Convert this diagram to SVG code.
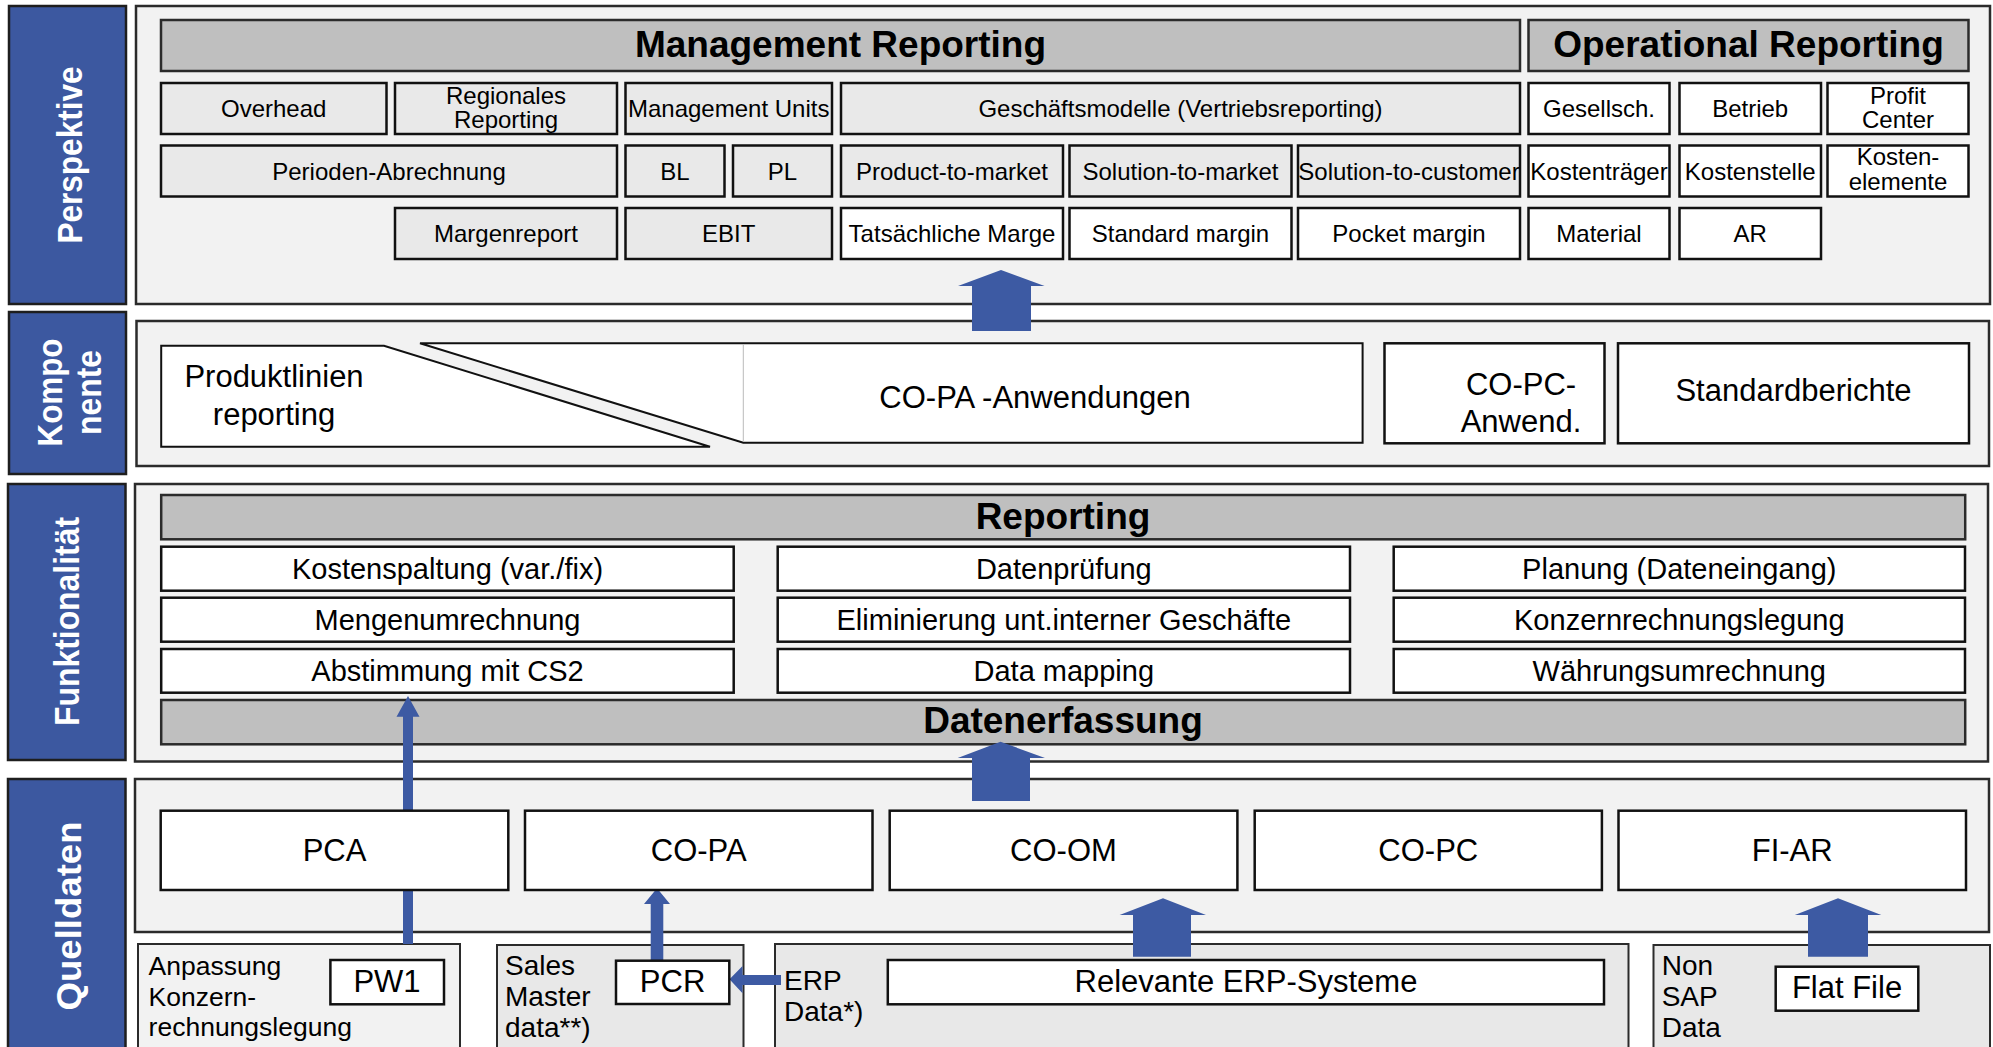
<svg xmlns="http://www.w3.org/2000/svg" width="1993" height="1047" viewBox="0 0 1993 1047">
<style>
.bg{fill:#ffffff}
.panel{fill:#F2F2F2;stroke:#2b2b2b;stroke-width:2.5}
.sub1{fill:#F2F2F2;stroke:#2b2b2b;stroke-width:2}
.sub2{fill:#E8E8E8;stroke:#2b2b2b;stroke-width:2}
.side{fill:#3C58A0;stroke:#1e1e1e;stroke-width:2.5}
.hdr{fill:#BFBFBF;stroke:#2b2b2b;stroke-width:2.5}
.mg{fill:#E9E9E9;stroke:#111;stroke-width:2.5}
.wh{fill:#FFFFFF;stroke:#111;stroke-width:2.5}
.arr{fill:#3D5AA3}
text{font-family:"Liberation Sans",Arial,sans-serif;fill:#000;text-anchor:middle}
.st{font-weight:bold;font-size:35px;fill:#FFFFFF}
.h{font-weight:bold;font-size:37px}
.t24{font-size:24px}
.t29{font-size:29px}
.t31{font-size:31px}
.t28{font-size:28px;text-anchor:start}
.t26{font-size:26.5px;text-anchor:start}
</style>
<rect class="bg" x="0" y="0" width="1993" height="1047"/>

<!-- side labels -->
<g id="label-perspektive">
<rect class="side" x="9" y="6" width="117" height="298"/>
<text class="st" transform="translate(81.7,155) rotate(-90)" textLength="177" lengthAdjust="spacingAndGlyphs">Perspektive</text>
</g>
<g id="label-komponente">
<rect class="side" x="9" y="312" width="117" height="162"/>
<text class="st" transform="translate(62.2,392.5) rotate(-90)" textLength="108" lengthAdjust="spacingAndGlyphs">Kompo</text>
<text class="st" transform="translate(100.5,392.5) rotate(-90)" textLength="85" lengthAdjust="spacingAndGlyphs">nente</text>
</g>
<g id="label-funktionalitaet">
<rect class="side" x="8" y="484" width="117.5" height="276"/>
<text class="st" transform="translate(79,621.5) rotate(-90)" textLength="209" lengthAdjust="spacingAndGlyphs">Funktionalität</text>
</g>
<g id="label-quelldaten">
<rect class="side" x="8" y="779" width="117.5" height="290"/>
<text class="st" transform="translate(81,916) rotate(-90)" textLength="189" lengthAdjust="spacingAndGlyphs">Quelldaten</text>
</g>

<!-- layer panels -->
<g id="panel-perspektive"><rect class="panel" x="136" y="6" width="1854" height="298"/></g>
<g id="panel-komponente"><rect class="panel" x="136.5" y="321" width="1852.5" height="145"/></g>
<g id="panel-funktionalitaet"><rect class="panel" x="135" y="484" width="1853" height="277.5"/></g>
<g id="panel-quelldaten"><rect class="panel" x="135" y="779" width="1854" height="153"/></g>
<g id="panel-anpassung"><rect class="sub1" x="138" y="944" width="322" height="120"/>
<text class="t26" x="148.6" y="975">Anpassung</text>
<text class="t26" x="148.6" y="1005.5">Konzern-</text>
<text class="t26" x="148.6" y="1036">rechnungslegung</text>
</g>
<g id="panel-sales"><rect class="sub2" x="497" y="945" width="246.5" height="120"/>
<text class="t28" x="505" y="975">Sales</text>
<text class="t28" x="505" y="1006">Master</text>
<text class="t28" x="505" y="1037">data**)</text>
</g>
<g id="panel-erp"><rect class="sub2" x="775" y="944" width="853.5" height="120"/>
<text class="t28" x="784" y="990">ERP</text>
<text class="t28" x="784" y="1020.5">Data*)</text>
</g>
<g id="panel-nonsap"><rect class="sub2" x="1653.5" y="945" width="336.5" height="120"/>
<text class="t28" x="1661.7" y="975">Non</text>
<text class="t28" x="1661.7" y="1006">SAP</text>
<text class="t28" x="1661.7" y="1036.5">Data</text>
</g>

<!-- Perspektive -->
<g id="hdr-management"><rect class="hdr" x="161" y="20" width="1359" height="51"/><text class="h" x="840.5" y="57">Management Reporting</text></g>
<g id="hdr-operational"><rect class="hdr" x="1528.5" y="20" width="440" height="51"/><text class="h" x="1748.5" y="57">Operational Reporting</text></g>

<g id="n-overhead"><rect class="mg" x="161" y="83" width="225.5" height="51"/><text class="t24" x="273.7" y="117">Overhead</text></g>
<g id="n-regionales"><rect class="mg" x="395" y="83" width="222" height="51"/><text class="t24" x="506" y="103.5">Regionales</text><text class="t24" x="506" y="128.3">Reporting</text></g>
<g id="n-mgmtunits"><rect class="mg" x="625.5" y="83" width="206.5" height="51"/><text class="t24" x="728.7" y="117">Management Units</text></g>
<g id="n-geschaeftsmodelle"><rect class="mg" x="841" y="83" width="679" height="51"/><text class="t24" x="1180.5" y="117">Geschäftsmodelle (Vertriebsreporting)</text></g>
<g id="n-gesellsch"><rect class="wh" x="1528.5" y="83" width="141" height="51"/><text class="t24" x="1599" y="117">Gesellsch.</text></g>
<g id="n-betrieb"><rect class="wh" x="1679.5" y="83" width="141.5" height="51"/><text class="t24" x="1750.2" y="117">Betrieb</text></g>
<g id="n-profitcenter"><rect class="wh" x="1827.5" y="83" width="141" height="51"/><text class="t24" x="1898" y="103.5">Profit</text><text class="t24" x="1898" y="128.3">Center</text></g>

<g id="n-perioden"><rect class="mg" x="161" y="145.5" width="456" height="51"/><text class="t24" x="389" y="180">Perioden-Abrechnung</text></g>
<g id="n-bl"><rect class="mg" x="625.5" y="145.5" width="99" height="51"/><text class="t24" x="675" y="180">BL</text></g>
<g id="n-pl"><rect class="mg" x="733" y="145.5" width="99" height="51"/><text class="t24" x="782.5" y="180">PL</text></g>
<g id="n-ptm"><rect class="mg" x="841" y="145.5" width="222" height="51"/><text class="t24" x="952" y="180">Product-to-market</text></g>
<g id="n-stm"><rect class="mg" x="1069.5" y="145.5" width="222" height="51"/><text class="t24" x="1180.5" y="180">Solution-to-market</text></g>
<g id="n-stc"><rect class="mg" x="1298" y="145.5" width="222" height="51"/><text class="t24" x="1409" y="180">Solution-to-customer</text></g>
<g id="n-kostentraeger"><rect class="wh" x="1528.5" y="145.5" width="141" height="51"/><text class="t24" x="1599" y="180">Kostenträger</text></g>
<g id="n-kostenstelle"><rect class="wh" x="1679.5" y="145.5" width="141.5" height="51"/><text class="t24" x="1750.2" y="180">Kostenstelle</text></g>
<g id="n-kostenelemente"><rect class="wh" x="1827.5" y="145.5" width="141" height="51"/><text class="t24" x="1898" y="165">Kosten-</text><text class="t24" x="1898" y="190">elemente</text></g>

<g id="n-margenreport"><rect class="mg" x="395" y="208" width="222" height="51"/><text class="t24" x="506" y="241.5">Margenreport</text></g>
<g id="n-ebit"><rect class="mg" x="625.5" y="208" width="206.5" height="51"/><text class="t24" x="728.7" y="241.5">EBIT</text></g>
<g id="n-tatsaechliche"><rect class="wh" x="841" y="208" width="222" height="51"/><text class="t24" x="952" y="241.5">Tatsächliche Marge</text></g>
<g id="n-standardmargin"><rect class="wh" x="1069.5" y="208" width="222" height="51"/><text class="t24" x="1180.5" y="241.5">Standard margin</text></g>
<g id="n-pocketmargin"><rect class="wh" x="1298" y="208" width="222" height="51"/><text class="t24" x="1409" y="241.5">Pocket margin</text></g>
<g id="n-material"><rect class="wh" x="1528.5" y="208" width="141" height="51"/><text class="t24" x="1599" y="241.5">Material</text></g>
<g id="n-ar"><rect class="wh" x="1679.5" y="208" width="141.5" height="51"/><text class="t24" x="1750.2" y="241.5">AR</text></g>

<!-- Komponente -->
<g id="n-produktlinien">
<polygon points="161.2,345.7 384,345.7 710,446.7 161.2,446.7" fill="#FFFFFF" stroke="#111" stroke-width="2"/>
<text class="t31" x="274" y="387.3">Produktlinien</text>
<text class="t31" x="274" y="425">reporting</text>
</g>
<g id="n-copa-anwendungen">
<polygon points="420,343.3 1362.6,343.3 1362.6,442.7 743.3,442.7" fill="#FFFFFF" stroke="#111" stroke-width="2"/>
<line x1="743.3" y1="344.5" x2="743.3" y2="441.5" stroke="#BBBBBB" stroke-width="1"/>
<text class="t31" x="1035" y="408">CO-PA -Anwendungen</text>
</g>
<g id="n-copc-anwend"><rect class="wh" x="1384.5" y="343.3" width="220" height="100" stroke-width="2"/><text class="t31" x="1521" y="395">CO-PC-</text><text class="t31" x="1521" y="431.7">Anwend.</text></g>
<g id="n-standardberichte"><rect class="wh" x="1618" y="343.3" width="351" height="100" stroke-width="2"/><text class="t31" x="1793.5" y="400.7">Standardberichte</text></g>

<!-- Funktionalitaet -->
<g id="hdr-reporting"><rect class="hdr" x="161.2" y="495" width="1804" height="44.3"/><text class="h" x="1063" y="529">Reporting</text></g>
<g id="n-kostenspaltung"><rect class="wh" x="161.2" y="546.7" width="572.5" height="44"/><text class="t29" x="447.5" y="578.5">Kostenspaltung (var./fix)</text></g>
<g id="n-datenpruefung"><rect class="wh" x="777.7" y="546.7" width="572.3" height="44"/><text class="t29" x="1063.8" y="578.5">Datenprüfung</text></g>
<g id="n-planung"><rect class="wh" x="1393.7" y="546.7" width="571.3" height="44"/><text class="t29" x="1679.3" y="578.5">Planung (Dateneingang)</text></g>
<g id="n-mengenumrechnung"><rect class="wh" x="161.2" y="597.7" width="572.5" height="44"/><text class="t29" x="447.5" y="629.5">Mengenumrechnung</text></g>
<g id="n-eliminierung"><rect class="wh" x="777.7" y="597.7" width="572.3" height="44"/><text class="t29" x="1063.8" y="629.5">Eliminierung unt.interner Geschäfte</text></g>
<g id="n-konzernrechnungslegung"><rect class="wh" x="1393.7" y="597.7" width="571.3" height="44"/><text class="t29" x="1679.3" y="629.5">Konzernrechnungslegung</text></g>
<g id="n-abstimmung"><rect class="wh" x="161.2" y="649" width="572.5" height="43.7"/><text class="t29" x="447.5" y="680.7">Abstimmung mit CS2</text></g>
<g id="n-datamapping"><rect class="wh" x="777.7" y="649" width="572.3" height="43.7"/><text class="t29" x="1063.8" y="680.7">Data mapping</text></g>
<g id="n-waehrungsumrechnung"><rect class="wh" x="1393.7" y="649" width="571.3" height="43.7"/><text class="t29" x="1679.3" y="680.7">Währungsumrechnung</text></g>
<g id="hdr-datenerfassung"><rect class="hdr" x="161.2" y="700" width="1804" height="44.3"/><text class="h" x="1063" y="733">Datenerfassung</text></g>

<!-- connectors -->
<g id="connectors">
<polygon class="arr" points="1001,270 1044.6,286 1031,286 1031,331 972,331 972,286 958,286"/>
<polygon class="arr" points="1000.5,741.7 1045,758 1030,758 1030,801 972,801 972,758 957.7,758"/>
<polygon class="arr" points="408,696 419.5,716.7 413,716.7 413,944 403,944 403,716.7 396.5,716.7"/>
<polygon class="arr" points="1163,898.3 1206,915 1191,915 1191,956.7 1133,956.7 1133,915 1119.6,915"/>
<polygon class="arr" points="1838,898.3 1881.3,915 1868,915 1868,956.7 1808,956.7 1808,915 1794.8,915"/>
<polygon class="arr" points="657,888.3 670,904 663.3,904 663.3,963 650.7,963 650.7,904 644,904"/>
<polygon class="arr" points="729.5,979.3 742.5,966 742.5,975 781,975 781,985 742.5,985 742.5,993.3"/>
</g>

<!-- Quelldaten -->
<g id="n-pca"><rect class="wh" x="160.7" y="810.7" width="347.6" height="79.3"/><text class="t31" x="334.5" y="861">PCA</text></g>
<g id="n-copa"><rect class="wh" x="525" y="810.7" width="347.5" height="79.3"/><text class="t31" x="698.7" y="861">CO-PA</text></g>
<g id="n-coom"><rect class="wh" x="889.7" y="810.7" width="347.7" height="79.3"/><text class="t31" x="1063.5" y="861">CO-OM</text></g>
<g id="n-copc"><rect class="wh" x="1254.7" y="810.7" width="347.2" height="79.3"/><text class="t31" x="1428.3" y="861">CO-PC</text></g>
<g id="n-fiar"><rect class="wh" x="1618.5" y="810.7" width="347.5" height="79.3"/><text class="t31" x="1792.2" y="861">FI-AR</text></g>

<g id="n-pw1"><rect class="wh" x="330.4" y="960" width="113.6" height="44.3" stroke-width="2"/><text class="t31" x="387" y="992">PW1</text></g>
<g id="n-pcr"><rect class="wh" x="616" y="960.7" width="113.3" height="43.3" stroke-width="2"/><text class="t31" x="672.6" y="992">PCR</text></g>
<g id="n-relevante-erp"><rect class="wh" x="887.8" y="960" width="716.2" height="44.3" stroke-width="2"/><text class="t31" x="1246" y="992">Relevante ERP-Systeme</text></g>
<g id="n-flatfile"><rect class="wh" x="1775.7" y="966.7" width="142.6" height="44" stroke-width="2"/><text class="t31" x="1847" y="997.5">Flat File</text></g>
</svg>
